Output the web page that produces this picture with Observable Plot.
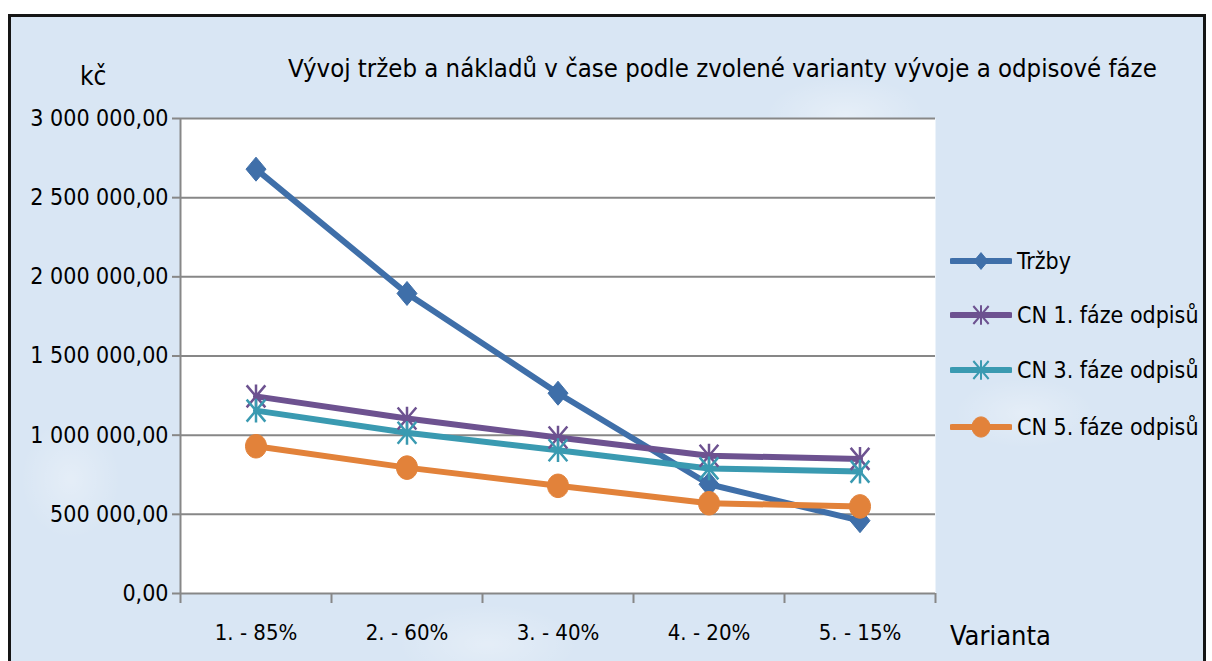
<!DOCTYPE html>
<html><head><meta charset="utf-8">
<script src="https://cdn.jsdelivr.net/npm/d3@7"></script>
<script src="https://cdn.jsdelivr.net/npm/@observablehq/plot@0.6"></script>
<style>
html,body{margin:0;padding:0;}
body{width:1212px;height:661px;overflow:hidden;background:#fff;position:relative;
  font-family:"Liberation Sans Narrow","DejaVu Sans Condensed","Open Sans",sans-serif;color:#000;}
#frame{position:absolute;left:8px;top:14px;width:1192px;height:660px;border:3px solid #151515;
  background-color:#d9e6f4;
  background-image:
    radial-gradient(ellipse 60px 30px at 20% 30%, rgba(255,255,255,0.35), transparent),
    radial-gradient(ellipse 80px 40px at 70% 15%, rgba(255,255,255,0.35), transparent),
    radial-gradient(ellipse 70px 35px at 85% 60%, rgba(255,255,255,0.3), transparent),
    radial-gradient(ellipse 90px 40px at 40% 95%, rgba(255,255,255,0.3), transparent),
    radial-gradient(ellipse 50px 60px at 5% 70%, rgba(255,255,255,0.3), transparent);}
#chart{position:absolute;left:0;top:0;}
.t{position:absolute;white-space:nowrap;line-height:1;}
#legend{position:absolute;left:950px;top:0;}
.row{position:absolute;left:0;display:flex;align-items:center;white-space:nowrap;font-size:23px;}
.row svg{margin-right:5px;}
</style>
</head><body>
<div id="frame"></div>
<div id="chart"></div>
<div class="t" style="left:288px;top:56px;font-size:25.5px;">Vývoj tržeb a nákladů v čase podle zvolené varianty vývoje a odpisové fáze</div>
<div class="t" style="left:80px;top:63px;font-size:26px;">kč</div>
<div class="t" style="left:950px;top:622px;font-size:27px;">Varianta</div>
<div id="legend"></div>
<script>
const categories = ["1. - 85%", "2. - 60%", "3. - 40%", "4. - 20%", "5. - 15%"];
const seriesNames = ["Tržby", "CN 1. fáze odpisů", "CN 3. fáze odpisů", "CN 5. fáze odpisů"];
const trzby = [2680000, 1895000, 1265000, 690000, 460000];
const cn1 = [1245000, 1105000, 985000, 870000, 850000];
const cn3 = [1155000, 1015000, 905000, 790000, 770000];
const cn5 = [930000, 795000, 680000, 570000, 550000];
const yTicks = [0, 500000, 1000000, 1500000, 2000000, 2500000, 3000000];
const colors = ["#3f6fa9", "#6d5290", "#3a9ab1", "#e2823a"];

const seriesValues = [trzby, cn1, cn3, cn5];
const data = [];
seriesValues.forEach((vals, s) => vals.forEach((v, i) => data.push({s: seriesNames[s], i, cat: categories[i], v})));

const idx = categories.map((_, i) => i);
const bounds = d3.range(categories.length + 1).map(i => i - 0.5);

const fmt = d => Math.round(d).toString().replace(/\B(?=(\d{3})+(?!\d))/g, " ") + ",00";

const diamond = {draw(ctx, size) { const r = Math.sqrt(size / Math.PI); ctx.moveTo(0, -r * 1.2); ctx.lineTo(r, 0); ctx.lineTo(0, r * 1.2); ctx.lineTo(-r, 0); ctx.closePath(); }};
const star = {draw(ctx, size) { const r = Math.sqrt(size / Math.PI); const a = r * 0.85; ctx.moveTo(-a, -r); ctx.lineTo(a, r); ctx.moveTo(-a, r); ctx.lineTo(a, -r); ctx.moveTo(0, -r * 1.08); ctx.lineTo(0, r * 1.08); }};
const ellipse = {draw(ctx, size) { const r = Math.sqrt(size / Math.PI); const ry = r * 1.12, k = 0.5523; ctx.moveTo(r, 0); ctx.bezierCurveTo(r, ry * k, r * k, ry, 0, ry); ctx.bezierCurveTo(-r * k, ry, -r, ry * k, -r, 0); ctx.bezierCurveTo(-r, -ry * k, -r * k, -ry, 0, -ry); ctx.bezierCurveTo(r * k, -ry, r, -ry * k, r, 0); ctx.closePath(); }};

const sel = name => d => d.s === name;

const chart = Plot.plot({
  width: 1212, height: 661,
  marginLeft: 180, marginRight: 277, marginTop: 118, marginBottom: 68,
  style: {background: "transparent", overflow: "visible", fontFamily: "'Liberation Sans Narrow','DejaVu Sans Condensed','Open Sans',sans-serif"},
  x: {type: "linear", domain: [-0.5, categories.length - 0.5]},
  y: {domain: [0, 3000000]},
  color: {domain: seriesNames, range: colors},
  marks: [
    Plot.frame({fill: "white", stroke: "none"}),
    Plot.gridY(yTicks, {stroke: "#878787", strokeOpacity: 1, strokeWidth: 2}),
    Plot.ruleX([-0.5], {stroke: "#878787", strokeWidth: 2}),
    Plot.axisY(yTicks, {tickSize: 8, tickPadding: 4, tickFormat: fmt, fontSize: 23, stroke: "#878787", strokeWidth: 2, fill: "#000", label: null}),
    Plot.axisX(bounds, {tickSize: 10, tickFormat: () => "", stroke: "#878787", strokeWidth: 2, label: null}),
    Plot.axisX(idx, {tickSize: 0, tickPadding: 31, tickFormat: i => categories[i], fontSize: 22, fill: "#000", label: null}),
    Plot.line(data, {x: "i", y: "v", z: "s", stroke: "s", strokeWidth: 6, strokeLinejoin: "round", strokeLinecap: "round"}),
    Plot.dot(data.filter(sel(seriesNames[0])), {x: "i", y: "v", symbol: () => diamond, r: 10, fill: colors[0], stroke: colors[0], strokeWidth: 1}),
    Plot.dot(data.filter(sel(seriesNames[1])), {x: "i", y: "v", symbol: () => star, r: 11, fill: "none", stroke: colors[1], strokeWidth: 2.5}),
    Plot.dot(data.filter(sel(seriesNames[2])), {x: "i", y: "v", symbol: () => star, r: 11, fill: "none", stroke: colors[2], strokeWidth: 2.5}),
    Plot.dot(data.filter(sel(seriesNames[3])), {x: "i", y: "v", symbol: () => ellipse, r: 10.5, fill: colors[3], stroke: colors[3], strokeWidth: 1})
  ]
});
document.getElementById("chart").appendChild(chart);

// legend
const legend = d3.select("#legend");
const rowTops = [261, 315, 370, 427];
const legendSymbols = [diamond, star, star, ellipse];
const legendFill = [true, false, false, true];
seriesNames.forEach((name, k) => {
  const row = legend.append("div").attr("class", "row").style("top", (rowTops[k] - 15) + "px");
  const svg = row.append("svg").attr("width", 62).attr("height", 30);
  svg.append("line").attr("x1", 2).attr("x2", 60).attr("y1", 15).attr("y2", 15).attr("stroke", colors[k]).attr("stroke-width", 6).attr("stroke-linecap", "round");
  const r = k === 0 ? 7 : k === 3 ? 9 : 9;
  svg.append("path").attr("transform", "translate(31,15)")
    .attr("d", d3.symbol(legendSymbols[k], Math.PI * r * r)())
    .attr("fill", legendFill[k] ? colors[k] : "none").attr("stroke", colors[k]).attr("stroke-width", legendFill[k] ? 1 : 2);
  row.append("span").text(name);
});
</script>
</body></html>
